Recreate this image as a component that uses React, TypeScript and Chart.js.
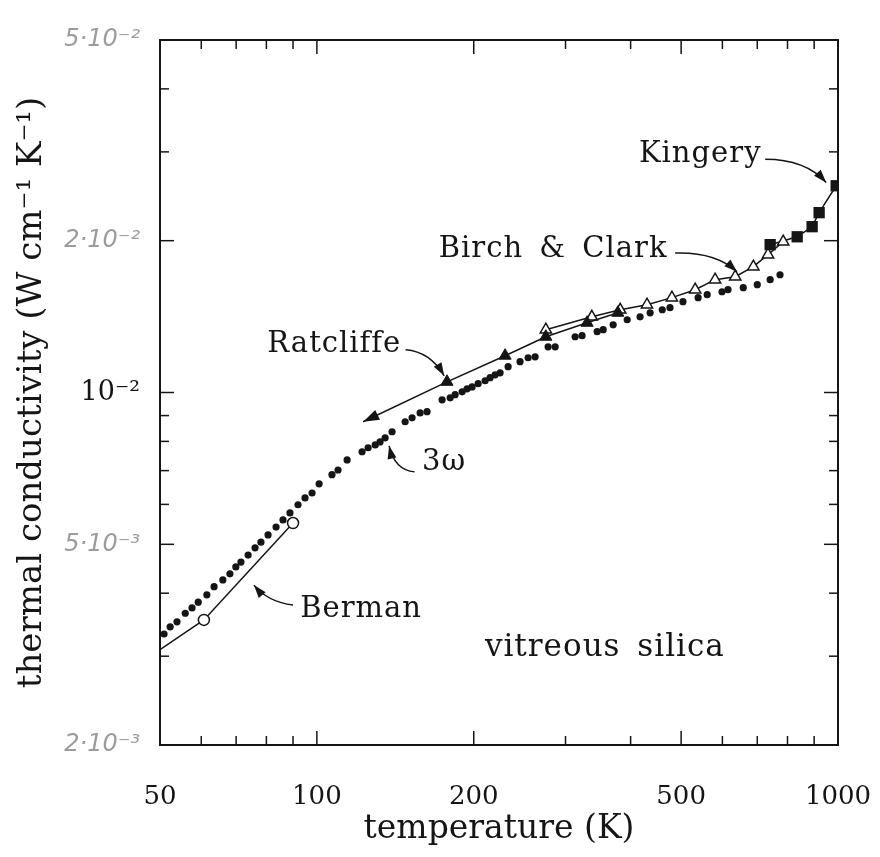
import React, { useEffect, useRef } from "react";
import { Chart, registerables } from "chart.js";

Chart.register(...registerables);

// ---- data (temperature in K, thermal conductivity in W cm^-1 K^-1) ----
const T_3W = [50.9, 52.3, 53.9, 55.9, 57.6, 59.2, 61.5, 63.5, 66.0, 68.1, 69.9, 71.5, 73.8, 76.1, 78.1, 80.6, 83.5, 86.1, 88.8, 92.0, 94.9, 97.9, 101, 106.9, 109.8, 114.3, 122.1, 125.4, 129.4, 132.2, 135.2, 139.4, 147.7, 152.3, 157.8, 162.7, 173.9, 180.2, 184.2, 190.0, 194.2, 198.5, 203.9, 210.3, 215.0, 219.8, 224.7, 232.8, 245.4, 254.3, 262.3, 277.8, 286.6, 313, 322.8, 345, 354.3, 370.3, 394, 417, 436, 460, 476, 504, 539, 561, 599, 615, 658, 700, 741, 774];
const K_3W = [3.32e-3, 3.43e-3, 3.51e-3, 3.65e-3, 3.74e-3, 3.84e-3, 3.97e-3, 4.12e-3, 4.25e-3, 4.37e-3, 4.51e-3, 4.61e-3, 4.76e-3, 4.92e-3, 5.05e-3, 5.22e-3, 5.41e-3, 5.59e-3, 5.77e-3, 5.99e-3, 6.18e-3, 6.32e-3, 6.59e-3, 6.87e-3, 7.02e-3, 7.35e-3, 7.63e-3, 7.77e-3, 7.87e-3, 7.98e-3, 8.13e-3, 8.36e-3, 8.75e-3, 8.91e-3, 9.11e-3, 9.16e-3, 9.67e-3, 9.76e-3, 9.90e-3, 10.03e-3, 10.17e-3, 10.26e-3, 10.41e-3, 10.55e-3, 10.70e-3, 10.84e-3, 10.94e-3, 11.25e-3, 11.51e-3, 11.72e-3, 11.77e-3, 12.32e-3, 12.32e-3, 12.90e-3, 12.96e-3, 13.20e-3, 13.32e-3, 13.62e-3, 13.94e-3, 14.13e-3, 14.39e-3, 14.59e-3, 14.73e-3, 15.14e-3, 15.42e-3, 15.63e-3, 15.84e-3, 15.99e-3, 16.14e-3, 16.36e-3, 16.74e-3, 17.12e-3];

// Ratcliffe: first entry is the arrow tip of the extrapolated line (no marker)
const T_RAT = [122.7, 177.7, 229.7, 275, 330, 378];
const K_RAT = [8.75e-3, 1.050e-2, 1.183e-2, 1.290e-2, 1.375e-2, 1.439e-2];

const T_BC = [275, 337, 382, 430, 480, 532, 581, 635, 688, 734, 785];
const K_BC = [1.332e-2, 1.413e-2, 1.459e-2, 1.493e-2, 1.542e-2, 1.599e-2, 1.674e-2, 1.697e-2, 1.776e-2, 1.876e-2, 1.991e-2];

const T_KIN = [741, 835, 892, 920, 992];
const K_KIN = [1.964e-2, 2.036e-2, 2.132e-2, 2.273e-2, 2.570e-2];

// Berman: first entry is where the line meets the axis (no marker)
const T_BER = [50, 60.7, 90.0];
const K_BER = [3.09e-3, 3.54e-3, 5.51e-3];

// ---- axes ----
const X_LABELS = [50, 100, 200, 500, 1000];
const X_MAJOR = [100, 200, 500];
const X_MINOR = [60, 70, 80, 90, 300, 400, 600, 700, 800, 900];
const Y_LABELS = [0.002, 0.005, 0.01, 0.02, 0.05];
const Y_LABEL_TEXT = ["2·10⁻³", "5·10⁻³", "10⁻²", "2·10⁻²", "5·10⁻²"];
const Y_HANDWRITTEN = [true, true, false, true, true];
const Y_MAJOR = [0.005, 0.01, 0.02];
const Y_MINOR = [0.003, 0.004, 0.006, 0.007, 0.008, 0.009, 0.03, 0.04];

// ---- annotations (data coordinates) ----
const NOTES = [
  { text: "Kingery", size: 29, at: [544, 2.96e-2], arrow: [[725, 2.9e-2], [865, 2.9e-2], [949, 2.61e-2]] },
  { text: "Birch & Clark", size: 29, at: [284, 1.92e-2], arrow: [[487, 1.89e-2], [581, 1.902e-2], [640, 1.736e-2]] },
  { text: "Ratcliffe", size: 29, at: [108, 1.244e-2], arrow: [[148, 1.215e-2], [165, 1.204e-2], [175.5, 1.079e-2]] },
  { text: "3ω", size: 29, at: [175.5, 7.25e-3], arrow: [[154, 6.96e-3], [141, 7.02e-3], [137.6, 7.84e-3]] },
  { text: "Berman", size: 29, at: [121.6, 3.71e-3], arrow: [[90, 3.79e-3], [80.6, 3.84e-3], [75.7, 4.15e-3]] },
  { text: "vitreous silica", size: 31, at: [357, 3.11e-3], arrow: null },
];

const INK = "#151515";
const SERIF = "'DejaVu Serif', 'Liberation Serif', serif";

function arrowHead(ctx: CanvasRenderingContext2D, tx: number, ty: number, fx: number, fy: number, len = 13, half = 4.5) {
  const ang = Math.atan2(ty - fy, tx - fx);
  ctx.beginPath();
  ctx.moveTo(tx, ty);
  ctx.lineTo(tx - len * Math.cos(ang) + half * Math.sin(ang), ty - len * Math.sin(ang) - half * Math.cos(ang));
  ctx.lineTo(tx - len * Math.cos(ang) - half * Math.sin(ang), ty - len * Math.sin(ang) + half * Math.cos(ang));
  ctx.closePath();
  ctx.fill();
}

const framePlugin = {
  id: "frameTicks",
  beforeDatasetsDraw(chart: any) {
    const { ctx, chartArea, scales } = chart;
    const { left, right, top, bottom } = chartArea;
    const x = scales.x, y = scales.y;
    ctx.save();
    ctx.strokeStyle = INK;
    ctx.lineWidth = 2;
    ctx.strokeRect(left, top, right - left, bottom - top);
    ctx.lineWidth = 1.5;
    const seg = (a: number, b: number, c: number, d: number) => {
      ctx.beginPath(); ctx.moveTo(a, b); ctx.lineTo(c, d); ctx.stroke();
    };
    const xt = (v: number, len: number) => {
      const p = x.getPixelForValue(v);
      seg(p, bottom, p, bottom - len);
      seg(p, top, p, top + len);
    };
    const yt = (v: number, len: number) => {
      const p = y.getPixelForValue(v);
      seg(left, p, left + len, p);
      seg(right, p, right - len, p);
    };
    X_MAJOR.forEach((v) => xt(v, 14));
    X_MINOR.forEach((v) => xt(v, 9));
    Y_MAJOR.forEach((v) => yt(v, 14));
    Y_MINOR.forEach((v) => yt(v, 9));
    ctx.restore();
  },
  afterDatasetsDraw(chart: any) {
    const { ctx, scales } = chart;
    const x = scales.x, y = scales.y;
    ctx.save();
    ctx.fillStyle = INK;
    ctx.strokeStyle = INK;
    ctx.lineWidth = 1.5;
    // Ratcliffe arrow tip
    const rm = chart.getDatasetMeta(1).data;
    if (rm.length > 1) arrowHead(ctx, rm[0].x, rm[0].y, rm[1].x, rm[1].y, 16, 5.5);
    ctx.textAlign = "center";
    ctx.textBaseline = "middle";
    (ctx as any).letterSpacing = "1px";
    (ctx as any).wordSpacing = "6px";
    for (const n of NOTES) {
      ctx.font = `${n.size}px ${SERIF}`;
      const px = x.getPixelForValue(n.at[0]);
      const py = y.getPixelForValue(n.at[1]);
      ctx.fillText(n.text, px, py);
      if (n.arrow) {
        const p = n.arrow.map((q) => [x.getPixelForValue(q[0]), y.getPixelForValue(q[1])]);
        ctx.beginPath();
        ctx.moveTo(p[0][0], p[0][1]);
        ctx.quadraticCurveTo(p[1][0], p[1][1], p[2][0], p[2][1]);
        ctx.stroke();
        arrowHead(ctx, p[2][0], p[2][1], p[1][0], p[1][1], 13, 4.5);
      }
    }
    ctx.restore();
  },
};

export default function App() {
  const ref = useRef<HTMLCanvasElement | null>(null);

  useEffect(() => {
    if (!ref.current) return;
    const pts = (ts: number[], ks: number[]) => ts.map((t, i) => ({ x: t, y: ks[i] }));
    const chart = new Chart(ref.current, {
      type: "scatter",
      data: {
        datasets: [
          {
            label: "3ω",
            data: pts(T_3W, K_3W),
            showLine: false,
            pointStyle: "circle",
            pointRadius: 3.6,
            pointBackgroundColor: INK,
            pointBorderColor: INK,
            pointBorderWidth: 0,
          },
          {
            label: "Ratcliffe",
            data: pts(T_RAT, K_RAT),
            showLine: true,
            borderColor: INK,
            borderWidth: 1.5,
            pointStyle: "triangle",
            pointRadius: (c: any) => (c.dataIndex === 0 ? 0 : 7),
            pointBackgroundColor: INK,
            pointBorderColor: INK,
            pointBorderWidth: 1,
          },
          {
            label: "Birch & Clark",
            data: pts(T_BC, K_BC),
            showLine: true,
            borderColor: INK,
            borderWidth: 1.5,
            pointStyle: "triangle",
            pointRadius: 6.5,
            pointBackgroundColor: "#ffffff",
            pointBorderColor: INK,
            pointBorderWidth: 1.5,
          },
          {
            label: "Kingery",
            data: pts(T_KIN, K_KIN),
            showLine: true,
            borderColor: INK,
            borderWidth: 1.5,
            pointStyle: "rect",
            pointRadius: 8,
            pointBackgroundColor: INK,
            pointBorderColor: INK,
            pointBorderWidth: 0,
          },
          {
            label: "Berman",
            data: pts(T_BER, K_BER),
            showLine: true,
            borderColor: INK,
            borderWidth: 1.5,
            pointStyle: "circle",
            pointRadius: (c: any) => (c.dataIndex === 0 ? 0 : 5.5),
            pointBackgroundColor: "#ffffff",
            pointBorderColor: INK,
            pointBorderWidth: 1.5,
          },
        ],
      },
      options: {
        animation: false,
        responsive: true,
        maintainAspectRatio: false,
        layout: { padding: { left: 0, top: 32, right: 34, bottom: 0 } },
        plugins: { legend: { display: false }, tooltip: { enabled: false } },
        scales: {
          x: {
            type: "logarithmic",
            min: 50,
            max: 1000,
            grid: { display: false, drawTicks: false },
            border: { display: false },
            afterBuildTicks: (s: any) => {
              s.ticks = X_LABELS.map((v) => ({ value: v }));
            },
            afterFit: (s: any) => {
              s.height = 104;
              s.paddingLeft = 0;
              s.paddingRight = 0;
            },
            ticks: {
              autoSkip: false,
              maxRotation: 0,
              padding: 37,
              color: INK,
              font: { family: SERIF, size: 26 },
              callback: (v: any) => String(v),
            },
            title: {
              display: true,
              text: "temperature (K)",
              color: INK,
              font: { family: SERIF, size: 33 },
              padding: { top: 0, bottom: 0 },
            },
          },
          y: {
            type: "logarithmic",
            min: 0.002,
            max: 0.05,
            grid: { display: false, drawTicks: false },
            border: { display: false },
            afterBuildTicks: (s: any) => {
              s.ticks = Y_LABELS.map((v) => ({ value: v }));
            },
            afterFit: (s: any) => {
              s.width = 152;
              s.paddingTop = 0;
              s.paddingBottom = 0;
            },
            ticks: {
              autoSkip: false,
              padding: 20,
              color: (c: any) => (Y_HANDWRITTEN[c.index] ? "#9c9c9c" : INK),
              font: (c: any) =>
                Y_HANDWRITTEN[c.index]
                  ? { family: "'DejaVu Sans', sans-serif", size: 24, style: "italic", weight: "300" }
                  : { family: SERIF, size: 27 },
              callback: (_v: any, i: number) => Y_LABEL_TEXT[i],
            },
            title: {
              display: true,
              text: "thermal conductivity (W cm⁻¹ K⁻¹)",
              color: INK,
              font: { family: SERIF, size: 34 },
              padding: { top: 4, bottom: 0 },
            },
          },
        },
      },
      plugins: [framePlugin],
    } as any);
    return () => chart.destroy();
  }, []);

  return (
    <div style={{ width: 864, height: 841, position: "relative", background: "#fff" }}>
      <canvas ref={ref} />
    </div>
  );
}
